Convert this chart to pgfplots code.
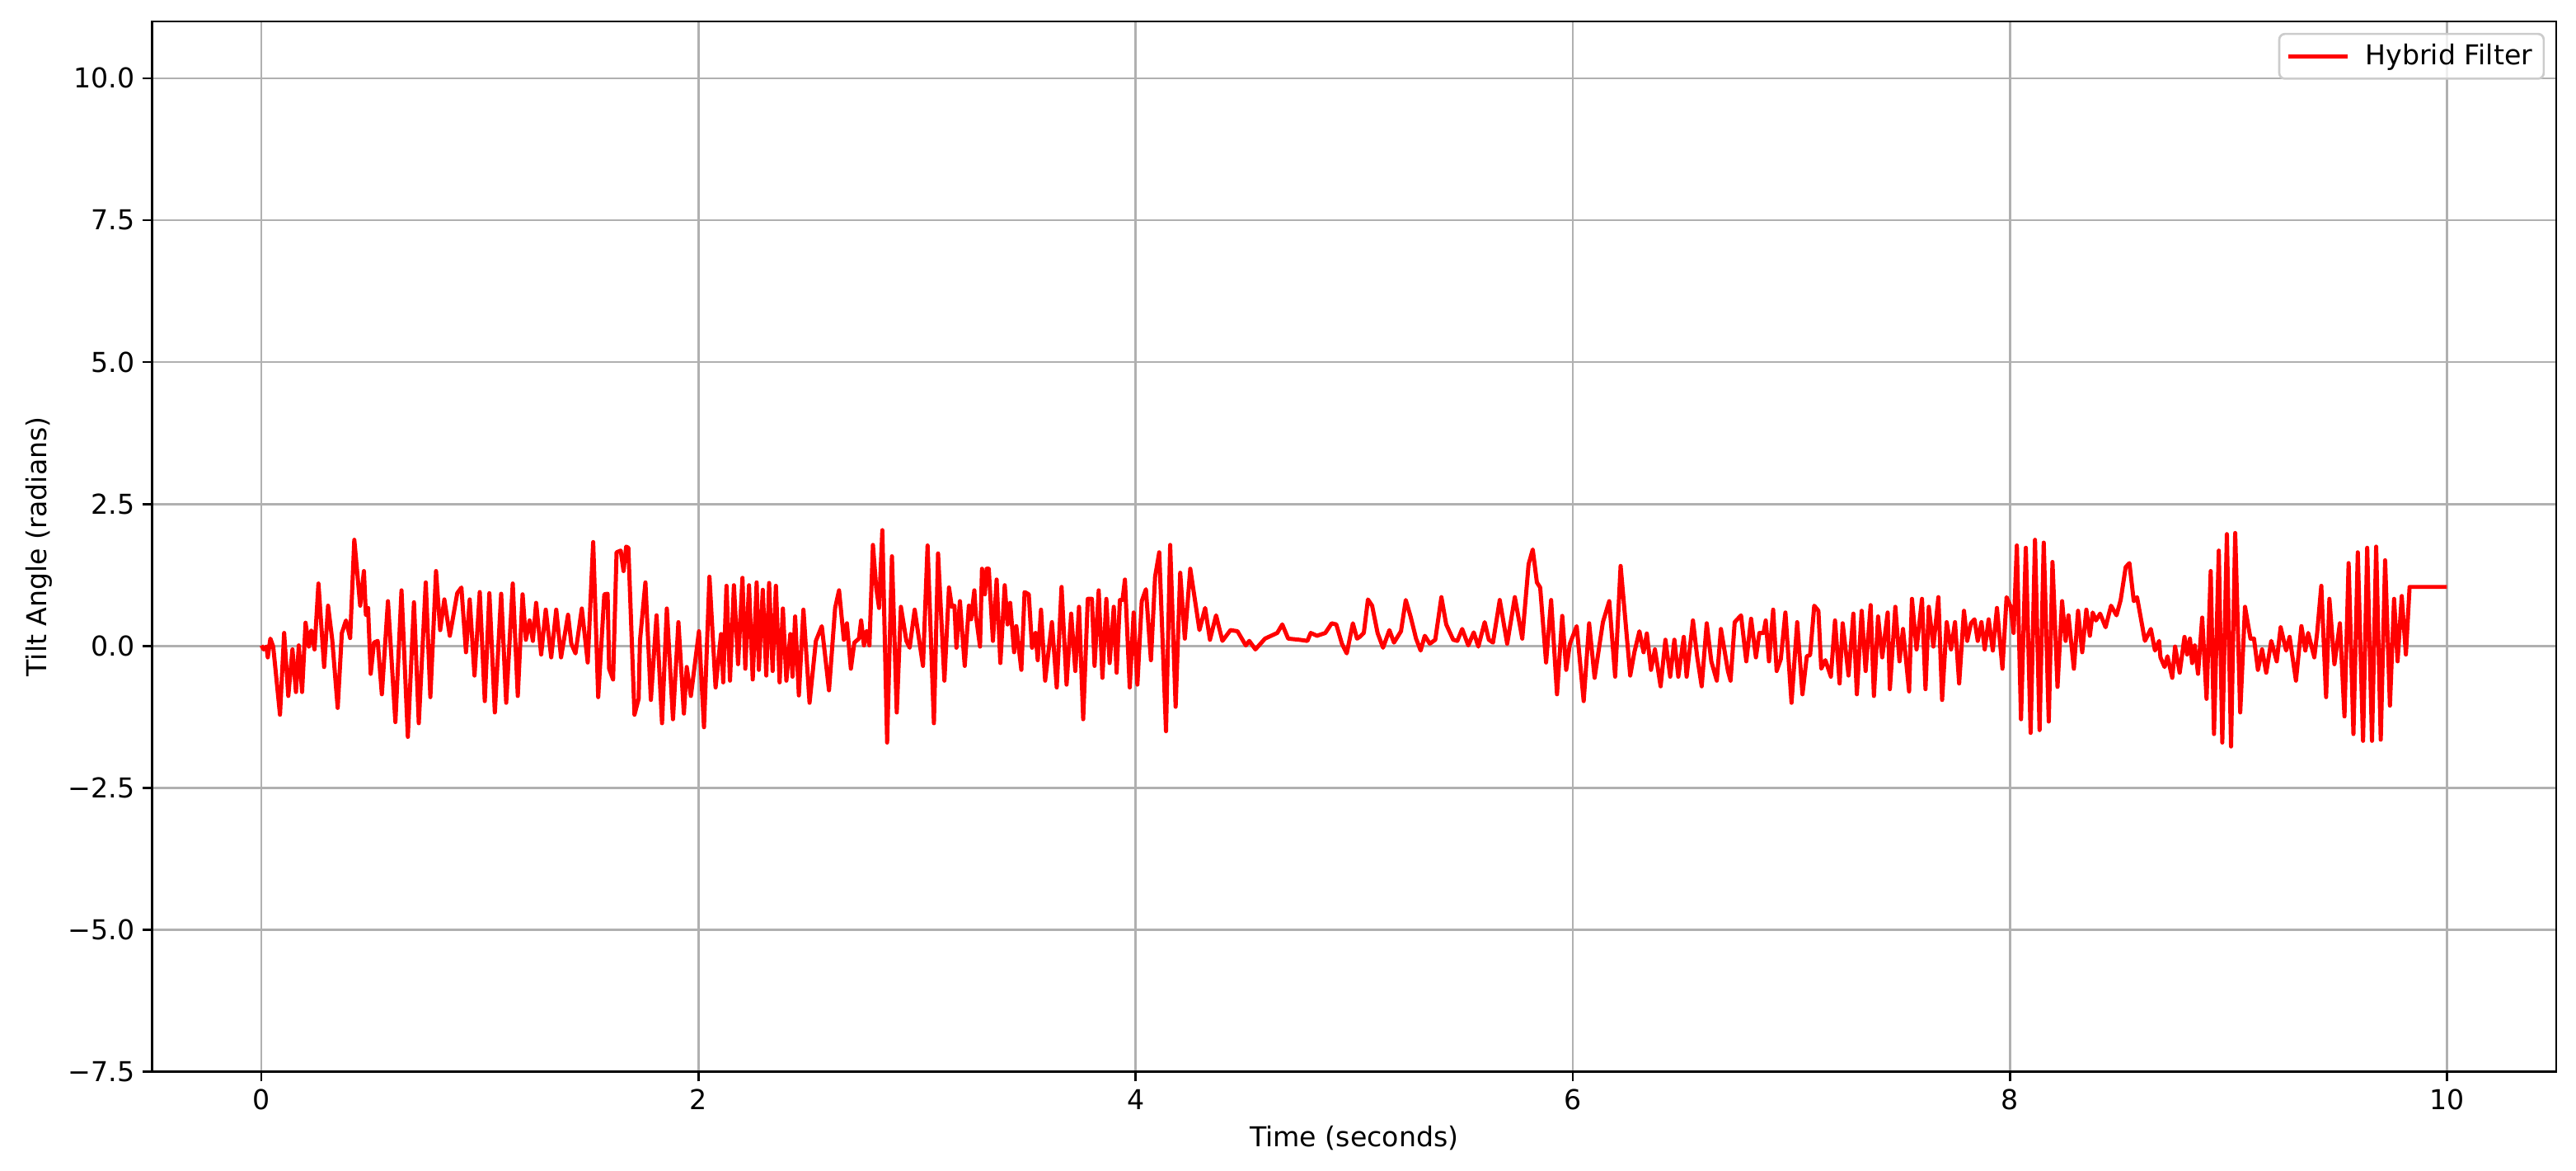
\documentclass[border=0pt]{standalone}
\usepackage{pgfplots}
\pgfplotsset{compat=1.18}
\usepackage{fontspec}
\setmainfont{DejaVu Sans}
\definecolor{gridgray}{RGB}{176,176,176}
\definecolor{legendgray}{RGB}{204,204,204}
\definecolor{plotred}{RGB}{255,0,0}
\newcommand{\mplfont}{\fontsize{12}{14.4}\selectfont}

\begin{document}
\begin{tikzpicture}
\begin{axis}[
  scale only axis, width=14.585in, height=6.37in,
  xmin=-0.5, xmax=10.5, ymin=-7.5, ymax=11,
  xtick={0,2,4,6,8,10}, xticklabels={0,2,4,6,8,10},
  ytick={-7.5,-5,-2.5,0,2.5,5,7.5,10},
  yticklabels={−7.5,−5.0,−2.5,0.0,2.5,5.0,7.5,10.0},
  xtick pos=left, ytick pos=left, tick align=outside,
  major tick length=4.2pt,
  tick style={black, line width=0.96pt},
  axis line style={line width=0.96pt},
  grid=major, grid style={gridgray, line width=0.96pt},
  xlabel={Time (seconds)}, ylabel={Tilt Angle (radians)},
  tick label style={font=\mplfont},
  label style={font=\mplfont},
  legend style={at={(1,1)}, anchor=north east, xshift=-5pt, yshift=-5pt,
    draw=legendgray, line width=0.96pt, rounded corners=2.5pt, fill=white, fill opacity=0.8, text opacity=1,
    inner xsep=3pt, inner ysep=2.5pt, column sep=5pt, font=\mplfont},
  legend cell align=left,
  legend image code/.code={\draw[#1] (0pt,0pt) -- (26pt,0pt);},
]
\addplot[plotred, line width=1.8pt, line join=round] coordinates {
(0.000,0.01)(0.010,-0.06)(0.023,-0.01)(0.029,-0.20)(0.041,0.13)(0.054,-0.01)
(0.085,-1.21)(0.104,0.23)(0.123,-0.88)(0.142,-0.06)(0.158,-0.81)(0.171,0.01)
(0.186,-0.81)(0.202,0.41)(0.217,-0.01)(0.228,0.27)(0.243,-0.06)(0.261,1.10)
(0.287,-0.37)(0.305,0.71)(0.324,0.11)(0.349,-1.09)(0.368,0.23)(0.387,0.45)
(0.406,0.14)(0.425,1.87)(0.452,0.71)(0.469,1.32)(0.478,0.55)(0.488,0.67)
(0.500,-0.49)(0.515,0.06)(0.532,0.09)(0.551,-0.85)(0.579,0.79)(0.613,-1.34)
(0.641,0.98)(0.670,-1.60)(0.698,0.77)(0.720,-1.36)(0.752,1.12)(0.773,-0.90)
(0.799,1.32)(0.818,0.28)(0.837,0.82)(0.862,0.18)(0.896,0.93)(0.915,1.03)
(0.936,-0.11)(0.953,0.82)(0.975,-0.52)(0.999,0.95)(1.022,-0.97)(1.043,0.93)
(1.068,-1.17)(1.097,0.92)(1.120,-1.00)(1.150,1.10)(1.173,-0.88)(1.195,0.91)
(1.210,0.11)(1.227,0.45)(1.242,0.09)(1.257,0.76)(1.280,-0.15)(1.301,0.64)
(1.326,-0.20)(1.349,0.64)(1.371,-0.20)(1.403,0.55)(1.418,0.04)(1.437,-0.13)
(1.466,0.66)(1.493,-0.29)(1.518,1.83)(1.541,-0.90)(1.569,0.91)(1.584,0.92)
(1.591,-0.40)(1.609,-0.59)(1.625,1.65)
(1.644,1.68)(1.657,1.32)(1.669,1.75)(1.679,1.73)(1.707,-1.21)(1.726,-0.93)
(1.732,0.09)(1.757,1.12)(1.782,-0.95)(1.808,0.54)(1.833,-1.36)(1.855,0.66)
(1.883,-1.29)(1.908,0.42)(1.933,-1.19)(1.946,-0.37)(1.965,-0.88)(2.002,0.26)
(2.025,-1.43)(2.050,1.22)(2.078,-0.73)(2.103,0.21)(2.113,-0.64)(2.128,1.06)
(2.144,-0.61)(2.162,1.07)(2.181,-0.32)(2.201,1.20)(2.214,-0.40)(2.231,1.07)
(2.248,-0.59)(2.266,1.12)(2.276,-0.42)(2.294,0.99)(2.310,-0.52)(2.323,1.11)
(2.339,-0.44)(2.354,1.06)(2.371,-0.64)(2.386,0.66)(2.402,-0.61)(2.420,0.21)
(2.430,-0.54)(2.442,0.52)(2.459,-0.87)(2.480,0.64)(2.508,-1.00)(2.537,0.09)
(2.564,0.35)(2.597,-0.78)(2.625,0.67)(2.643,0.98)(2.665,0.11)(2.679,0.40)
(2.697,-0.40)(2.713,0.06)(2.734,0.13)(2.744,0.45)(2.757,0.01)(2.769,0.26)
(2.782,0.01)(2.798,1.78)(2.813,1.03)(2.826,0.67)(2.841,2.04)(2.863,-1.70)
(2.885,1.58)(2.907,-1.17)(2.926,0.69)(2.951,0.09)(2.966,-0.03)(2.989,0.64)
(3.027,-0.35)(3.048,1.77)(3.077,-1.36)(3.096,1.63)(3.125,-0.61)(3.146,1.03)
(3.159,0.69)(3.171,0.71)(3.180,-0.03)(3.196,0.79)(3.218,-0.35)(3.237,0.71)
(3.247,0.47)(3.262,0.98)(3.269,0.54)(3.288,-0.01)(3.297,1.36)(3.310,0.91)
(3.318,1.36)(3.328,1.36)
(3.347,0.09)(3.364,1.17)(3.381,-0.30)(3.401,1.07)(3.414,0.38)(3.426,0.76)
(3.444,-0.11)(3.454,0.35)(3.477,-0.42)(3.492,0.95)(3.511,0.91)(3.526,-0.03)
(3.542,0.23)(3.552,-0.25)(3.567,0.64)(3.586,-0.61)(3.617,0.42)(3.639,-0.73)
(3.661,1.04)(3.684,-0.68)(3.705,0.57)(3.724,-0.44)(3.741,0.69)(3.760,-1.29)
(3.781,0.83)(3.800,0.83)(3.812,-0.35)(3.831,0.98)(3.848,-0.56)(3.866,0.83)
(3.881,-0.30)(3.900,0.69)(3.913,-0.47)(3.928,0.81)(3.940,0.81)(3.951,1.17)
(3.973,-0.73)(3.991,0.59)(4.008,-0.68)(4.028,0.79)(4.047,1.00)(4.070,-0.25)
(4.089,1.22)(4.108,1.65)(4.139,-1.50)(4.158,1.78)(4.183,-1.07)(4.204,1.29)
(4.225,0.13)(4.250,1.36)(4.292,0.28)(4.318,0.67)(4.340,0.11)(4.368,0.54)
(4.397,0.09)(4.434,0.28)(4.466,0.26)(4.504,0.01)(4.520,0.09)(4.548,-0.06)
(4.592,0.13)(4.648,0.23)(4.671,0.38)(4.698,0.13)(4.749,0.11)(4.786,0.09)
(4.801,0.23)(4.830,0.18)(4.868,0.23)(4.897,0.40)(4.918,0.38)(4.944,0.04)
(4.966,-0.13)(4.994,0.40)(5.013,0.13)
(5.025,0.16)(5.044,0.23)(5.063,0.82)(5.082,0.71)(5.107,0.23)(5.132,-0.03)
(5.161,0.28)(5.182,0.06)(5.214,0.26)(5.236,0.81)(5.258,0.52)(5.283,0.13)
(5.304,-0.08)(5.323,0.18)(5.346,0.04)(5.371,0.11)(5.399,0.86)(5.421,0.38)
(5.453,0.11)(5.472,0.09)(5.494,0.30)(5.522,0.01)(5.547,0.24)(5.568,-0.01)
(5.597,0.42)(5.616,0.11)(5.635,0.06)(5.666,0.81)(5.700,0.04)(5.735,0.86)
(5.769,0.13)(5.798,1.44)(5.817,1.70)(5.836,1.12)(5.851,1.03)(5.878,-0.29)
(5.901,0.81)(5.928,-0.85)(5.952,0.53)(5.970,-0.42)(5.987,0.04)(6.018,0.35)
(6.050,-0.97)(6.075,0.40)(6.100,-0.56)(6.125,0.09)(6.138,0.42)(6.167,0.79)
(6.194,-0.54)(6.219,1.41)(6.263,-0.52)(6.282,-0.11)(6.305,0.26)(6.324,-0.11)
(6.339,0.22)(6.358,-0.42)(6.376,-0.06)(6.402,-0.71)(6.424,0.11)(6.446,-0.54)
(6.465,0.11)(6.483,-0.54)(6.508,0.16)(6.521,-0.54)(6.550,0.45)(6.569,-0.18)
(6.590,-0.71)(6.613,0.40)(6.634,-0.27)(6.659,-0.61)(6.678,0.30)(6.710,-0.44)
(6.722,-0.61)(6.741,0.42)(6.770,0.54)(6.794,-0.27)(6.816,0.48)(6.838,-0.20)
(6.854,0.23)(6.873,0.23)(6.883,0.45)(6.898,-0.27)(6.917,0.64)(6.933,-0.44)
(6.952,-0.23)(6.973,0.59)(7.001,-1.00)(7.027,0.42)(7.051,-0.85)(7.071,-0.18)
(7.086,-0.16)(7.105,0.71)(7.124,0.62)(7.137,-0.40)(7.156,-0.25)(7.181,-0.54)
(7.200,0.45)(7.221,-0.66)(7.235,0.40)(7.262,-0.52)(7.284,0.57)(7.300,-0.85)
(7.322,0.62)(7.340,-0.44)(7.363,0.72)(7.378,-0.88)(7.397,0.52)(7.416,-0.20)
(7.441,0.59)(7.451,-0.76)(7.476,0.69)(7.495,-0.27)(7.511,0.30)(7.539,-0.80)
(7.552,0.83)(7.573,-0.06)(7.598,0.83)(7.614,-0.76)(7.629,0.69)(7.650,-0.01)
(7.673,0.86)(7.690,-0.95)(7.711,0.42)(7.731,-0.06)(7.749,0.42)(7.768,-0.66)
(7.790,0.62)(7.805,0.09)(7.822,0.40)(7.838,0.47)(7.853,0.09)(7.870,0.42)
(7.885,-0.06)(7.903,0.47)(7.922,-0.08)(7.941,0.67)(7.966,-0.40)(7.985,0.86)
(8.004,0.69)(8.017,0.23)(8.032,1.77)(8.051,-1.29)(8.073,1.73)(8.095,-1.53)
(8.115,1.87)(8.136,-1.48)(8.155,1.82)(8.178,-1.33)(8.195,1.48)(8.218,-0.72)
(8.239,0.79)(8.255,0.09)(8.268,0.54)(8.293,-0.40)(8.312,0.62)(8.331,-0.11)
(8.350,0.64)(8.366,0.18)(8.379,0.59)(8.394,0.45)(8.413,0.57)
(8.438,0.33)(8.463,0.71)(8.488,0.54)(8.507,0.81)(8.530,1.39)(8.547,1.46)
(8.567,0.79)(8.582,0.86)(8.618,0.09)(8.645,0.30)(8.664,-0.08)(8.683,0.09)
(8.689,-0.20)(8.708,-0.37)(8.721,-0.18)(8.743,-0.56)(8.756,-0.01)(8.777,-0.47)
(8.799,0.16)(8.811,-0.15)(8.824,0.13)(8.834,-0.30)(8.846,0.01)(8.861,-0.49)
(8.880,0.50)(8.900,-0.93)(8.919,1.32)(8.934,-1.55)(8.956,1.68)(8.972,-1.70)
(8.993,1.97)(9.012,-1.77)(9.031,1.99)(9.054,-1.17)(9.076,0.69)(9.101,0.13)
(9.117,0.13)(9.135,-0.42)(9.154,-0.06)(9.173,-0.47)(9.196,0.09)(9.221,-0.27)
(9.239,0.33)(9.264,-0.08)(9.280,0.16)(9.309,-0.61)(9.334,0.35)(9.352,-0.08)
(9.365,0.23)(9.393,-0.20)(9.406,0.23)(9.425,1.06)(9.447,-0.90)(9.462,0.83)
(9.485,-0.32)(9.510,0.40)(9.531,-1.24)(9.550,1.46)(9.572,-1.55)(9.592,1.65)
(9.616,-1.67)(9.635,1.73)(9.657,-1.67)(9.676,1.75)(9.697,-1.65)(9.717,1.51)
(9.739,-1.05)(9.758,0.83)(9.774,-0.27)(9.793,0.88)(9.812,-0.15)(9.829,1.04)
(10.000,1.04)
};
\addlegendentry{Hybrid Filter}
\end{axis}
\pgfresetboundingbox
\path ([shift={(-0.923in,-0.6in)}]current axis.south west) rectangle ([shift={(0.12in,0.13in)}]current axis.north east);
\end{tikzpicture}
\end{document}
